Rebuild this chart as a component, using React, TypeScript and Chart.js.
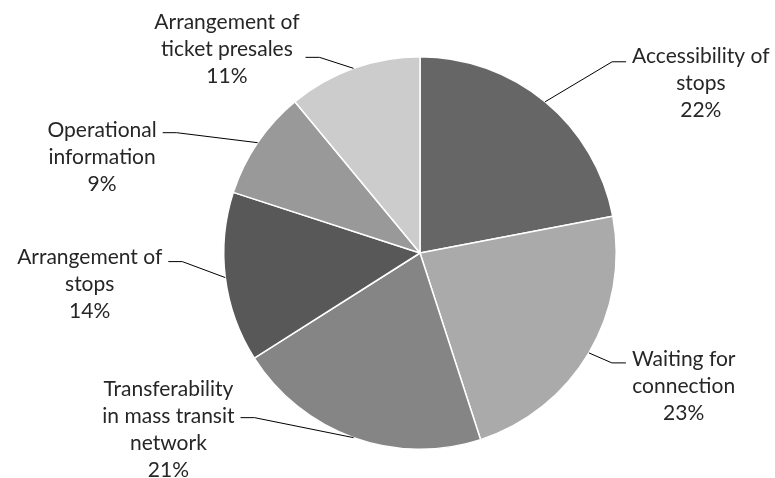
import { useEffect, useRef } from "react";
import { Chart, registerables } from "chart.js";

Chart.register(...registerables);

const categories: string[][] = [
  ["Accessibility of", "stops"],
  ["Waiting for", "connection"],
  ["Transferability", "in mass transit", "network"],
  ["Arrangement of", "stops"],
  ["Operational", "information"],
  ["Arrangement of", "ticket presales"],
];
const values: number[] = [22, 23, 21, 14, 9, 11];
const colors: string[] = ["#666666", "#aaaaaa", "#858585", "#585858", "#999999", "#cccccc"];

// leader-line layout: elbow offset from the slice's outer mid-point, side, and
// which (fractional) text line the leader meets
const labelLayout = [
  { dx: 67, dy: -40, side: 1, at: 0.2 },
  { dx: 23, dy: 10, side: 1, at: 0.15 },
  { dx: -99, dy: -20, side: -1, at: 1.07 },
  { dx: -43, dy: -16, side: -1, at: 0.15 },
  { dx: -81, dy: -10, side: -1, at: 0.1 },
  { dx: -34, dy: -11, side: -1, at: 1.3 },
];

const FONT_SIZE = 21;
const LINE_H = 27;
const SEG = 14;
const GAP = 6;

const labelPlugin = {
  id: "outsideLabels",
  afterDraw(chart: any) {
    const ctx = chart.ctx as CanvasRenderingContext2D;
    const meta = chart.getDatasetMeta(0);
    const total = values.reduce((a, b) => a + b, 0);
    ctx.save();
    ctx.font = `${FONT_SIZE}px Lato`;
    ctx.textBaseline = "middle";
    ctx.textAlign = "center";
    meta.data.forEach((arc: any, i: number) => {
      const p = arc.getProps(["x", "y", "startAngle", "endAngle", "outerRadius"], true);
      const mid = (p.startAngle + p.endAngle) / 2;
      const px = p.x + Math.cos(mid) * p.outerRadius;
      const py = p.y + Math.sin(mid) * p.outerRadius;
      const L = labelLayout[i];
      const ex = px + L.dx;
      const ey = py + L.dy;
      const hx = ex + L.side * SEG;
      ctx.strokeStyle = "#000000";
      ctx.lineWidth = 1;
      ctx.beginPath();
      ctx.moveTo(px, py);
      ctx.lineTo(ex, ey);
      ctx.lineTo(hx, ey);
      ctx.stroke();
      const lines = [...categories[i], `${Math.round((values[i] / total) * 100)}%`];
      const w = Math.max(...lines.map((s) => ctx.measureText(s).width));
      const cx = L.side > 0 ? hx + GAP + w / 2 : hx - GAP - w / 2;
      const y0 = ey - L.at * LINE_H;
      ctx.fillStyle = "#262626";
      lines.forEach((s, k) => ctx.fillText(s, cx, y0 + k * LINE_H));
    });
    ctx.restore();
  },
};

export default function App() {
  const ref = useRef<HTMLCanvasElement | null>(null);
  useEffect(() => {
    if (!ref.current) return;
    const chart = new Chart(ref.current, {
      type: "pie",
      data: {
        labels: categories.map((c) => c.join(" ")),
        datasets: [
          {
            data: values,
            backgroundColor: colors,
            borderColor: "#ffffff",
            borderWidth: 1.5,
          },
        ],
      },
      options: {
        responsive: false,
        animation: false,
        layout: { padding: { left: 223, right: 158, top: 56, bottom: 28 } },
        plugins: {
          legend: { display: false },
          tooltip: { enabled: false },
        },
      },
      plugins: [labelPlugin],
    });
    return () => chart.destroy();
  }, []);
  return (
    <div style={{ position: "fixed", left: 0, top: 0, width: 775, height: 478, background: "#fff" }}>
      <canvas ref={ref} width={775} height={478} style={{ width: 775, height: 478 }} />
    </div>
  );
}
